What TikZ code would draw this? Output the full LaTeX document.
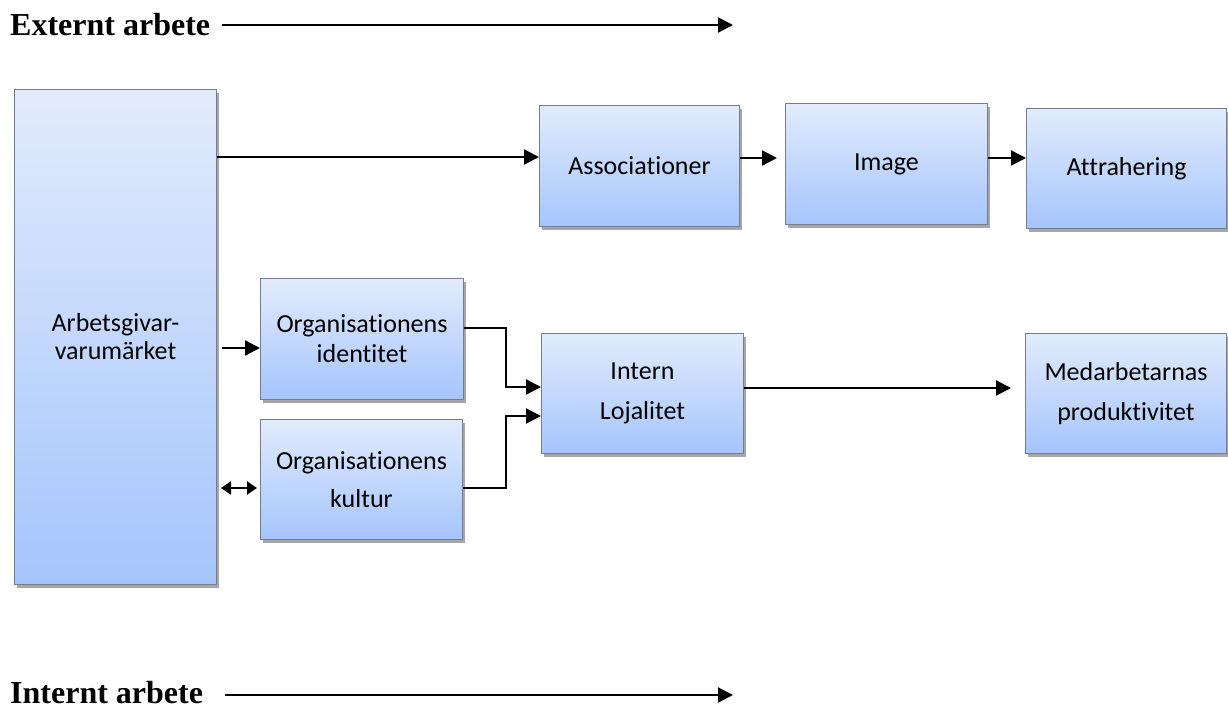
\documentclass[tikz,border=0pt]{standalone}
\usepackage{fontspec}
\setmainfont{Carlito}[Ligatures=NoCommon]
\newfontfamily\titlefont{Liberation Serif}
\usetikzlibrary{arrows.meta,shadows}
\tikzset{
  box/.style={rectangle, inner sep=0pt, anchor=north west, align=center,
    top color={rgb,255:red,226;green,235;blue,252},
    bottom color={rgb,255:red,165;green,197;blue,252},
    draw={rgb,255:red,115;green,125;blue,145}, line width=1pt,
    drop shadow={shadow xshift=2pt, shadow yshift=-3pt, opacity=0.35, fill=black},
    font=\fontsize{26}{30}\selectfont},
  arr/.style={line width=2.2pt, -{Triangle[length=15pt,width=15pt]}},
  darr/.style={line width=2.2pt, {Triangle[length=10pt,width=13pt]}-{Triangle[length=10pt,width=13pt]}},
  ttl/.style={anchor=base west, inner sep=0pt, font=\titlefont\bfseries\fontsize{32}{36}\selectfont}
}
\begin{document}
\begin{tikzpicture}[x=1pt,y=-1pt]
\useasboundingbox (0,0) rectangle (1228,710);
% titles
\node[ttl] (ext) at (10,35) {Externt arbete};
\coordinate (extend) at (733,25);
\draw[arr] ([xshift=12pt]ext.east |- 0,25) -- (extend);
\node[ttl] (int) at (10,703) {Internt arbete};
\coordinate (intend) at (733,695);
\draw[arr] ([xshift=22pt]int.east |- 0,695) -- (intend);
% boxes
\node[box, minimum width=202, minimum height=495] (arb) at (14,89) {Arbetsgivar-\\[-2pt]varumärket};
\node[box, minimum width=200, minimum height=121] (ass) at (539,105) {Associationer};
\node[box, minimum width=202, minimum height=121] (img) at (785,103) {Image};
\node[box, minimum width=200, minimum height=120] (att) at (1026,108) {Attrahering};
\node[box, minimum width=203, minimum height=121] (ide) at (260,278) {Organisationens\\identitet};
\node[box, minimum width=202, minimum height=120] (kul) at (260,419) {Organisationens\\[8pt]kultur};
\node[box, minimum width=202, minimum height=120] (loj) at (541,333) {Intern\\[10pt]Lojalitet};
\node[box, minimum width=201, minimum height=120] (med) at (1025,333) {Medarbetarnas\\[10pt]produktivitet};
% connectors
\draw[arr] (arb.east |- 0,157) -- (ass.west |- 0,157);
\draw[arr, shorten >=8pt] (ass.east |- 0,158) -- (img.west |- 0,158);
\draw[arr] (img.east |- 0,158) -- (att.west |- 0,158);
\draw[arr, shorten <=5pt] (arb.east |- 0,348) -- (ide.west |- 0,348);
\draw[darr, shorten <=4pt, shorten >=3pt] (arb.east |- 0,488) -- (kul.west |- 0,488);
\coordinate (j1) at (506,387);
\coordinate (j2) at (506,416);
\draw[arr] (ide.east |- 0,328) -| (j1) -- (loj.west |- j1);
\draw[arr] (kul.east |- 0,488) -| (j2) -- (loj.west |- j2);
\draw[arr, shorten >=14pt] (loj.east |- 0,388) -- (med.west |- 0,388);
\end{tikzpicture}
\end{document}
